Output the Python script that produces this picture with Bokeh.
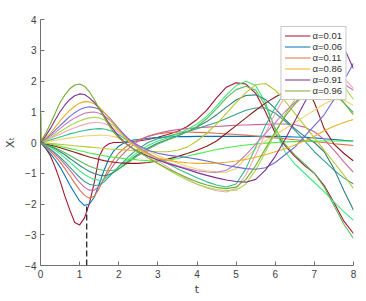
from bokeh.plotting import figure
from bokeh.models import Legend, LegendItem, Label, Range1d, FixedTicker
from bokeh.embed import file_html
from bokeh.resources import INLINE

t = [0, 0.125, 0.25, 0.375, 0.5, 0.625, 0.75, 0.875, 1, 1.125, 1.25, 1.375, 1.5, 1.625,
     1.75, 1.875, 2, 2.125, 2.25, 2.375,
     2.5, 2.75, 3, 3.25, 3.5, 3.75, 4, 4.25, 4.5, 4.75, 5, 5.25, 5.5, 5.75,
     6, 6.25, 6.5, 6.75, 7, 7.25, 7.5, 7.75, 8]
# the alpha = 0.96 curve has an extra start-up spike right after t = 0
t_096 = [0, 0.01, 0.02, 0.125, 0.25, 0.375, 0.5, 0.625, 0.75, 0.875, 1, 1.125, 1.25, 1.375, 1.5, 1.625,
         1.75, 1.875, 2, 2.125, 2.25, 2.375,
         2.5, 2.75, 3, 3.25, 3.5, 3.75, 4, 4.25, 4.5, 4.75, 5, 5.25, 5.5, 5.75,
         6, 6.25, 6.5, 6.75, 7, 7.25, 7.5, 7.75, 8]

x_001 = [0,-0.18,-0.42,-0.8,-1.25,-1.75,-2.2,-2.6,-2.68,-2.45,-1.98,-1.3,-0.45,-0.15,-0.04,0.0,0.0,0.01,0.02,0.03,
         0.05,0.1,0.17,0.26,0.36,0.52,0.75,1.05,1.45,1.8,1.94,1.9,1.6,1.0,0.3,-0.1,-0.45,-0.75,-1.0,-1.4,-1.95,-2.55,-2.96]
x_006 = [0,-0.17,-0.36,-0.56,-0.8,-1.08,-1.38,-1.65,-1.9,-2.05,-2.0,-1.78,-1.35,-0.9,-0.52,-0.27,-0.12,-0.02,0.04,0.08,
         0.1,0.14,0.16,0.18,0.19,0.19,0.2,0.2,0.2,0.2,0.2,0.2,0.2,0.2,0.2,0.19,0.18,0.17,0.15,0.12,0.1,0.07,0.05]
x_011 = [0,-0.13,-0.28,-0.45,-0.64,-0.85,-1.08,-1.32,-1.54,-1.72,-1.81,-1.75,-1.5,-1.15,-0.82,-0.55,-0.35,-0.2,-0.08,0.01,
         0.08,0.2,0.28,0.32,0.34,0.34,0.33,0.32,0.3,0.28,0.26,0.24,0.21,0.18,0.15,0.12,0.09,0.06,0.03,0.0,-0.04,-0.07,-0.1]
x_016 = [0,-0.11,-0.24,-0.38,-0.53,-0.71,-0.9,-1.1,-1.3,-1.46,-1.55,-1.55,-1.42,-1.2,-0.95,-0.72,-0.52,-0.35,-0.2,-0.07,
         0.05,0.2,0.3,0.37,0.42,0.45,0.48,0.5,0.52,0.54,0.56,0.57,0.58,0.59,0.6,0.6,0.58,0.5,0.35,0.1,-0.25,-0.62,-0.97]
x_021 = [0,-0.1,-0.21,-0.34,-0.48,-0.63,-0.8,-0.97,-1.13,-1.27,-1.36,-1.4,-1.38,-1.28,-1.12,-0.95,-0.78,-0.62,-0.46,-0.32,
         -0.2,0.0,0.12,0.2,0.28,0.35,0.45,0.55,0.65,0.78,0.92,1.05,1.12,1.12,0.95,0.7,0.4,0.05,-0.3,-0.6,-0.9,-1.15,-1.35]
x_026 = [0,-0.07,-0.15,-0.25,-0.37,-0.5,-0.64,-0.78,-0.92,-1.04,-1.13,-1.2,-1.23,-1.2,-1.08,-0.94,-0.8,-0.67,-0.55,-0.42,
         -0.3,-0.1,0.05,0.15,0.28,0.42,0.6,0.85,1.18,1.55,1.85,1.99,1.85,1.3,0.4,-0.3,-0.7,-1.0,-1.3,-1.6,-1.93,-2.25,-2.53]
x_031 = [0,-0.06,-0.12,-0.2,-0.3,-0.4,-0.52,-0.63,-0.75,-0.85,-0.94,-1.01,-1.06,-1.08,-1.05,-0.97,-0.86,-0.74,-0.61,-0.49,
         -0.38,-0.18,-0.02,0.1,0.22,0.35,0.5,0.68,0.9,1.15,1.38,1.53,1.55,1.4,1.1,0.75,0.45,0.2,0.0,-0.3,-0.85,-1.55,-2.2]
x_036 = [0,-0.05,-0.1,-0.17,-0.25,-0.33,-0.42,-0.51,-0.6,-0.69,-0.77,-0.83,-0.88,-0.91,-0.92,-0.9,-0.85,-0.76,-0.65,-0.53,
         -0.42,-0.22,-0.05,0.08,0.2,0.35,0.52,0.78,1.1,1.45,1.72,1.83,1.7,1.2,0.45,-0.05,-0.4,-0.7,-1.0,-1.45,-2.05,-2.65,-3.12]
x_041 = [0,-0.04,-0.08,-0.12,-0.17,-0.22,-0.27,-0.32,-0.37,-0.42,-0.47,-0.51,-0.55,-0.59,-0.62,-0.64,-0.66,-0.67,-0.68,-0.68,
         -0.68,-0.65,-0.6,-0.54,-0.46,-0.36,-0.25,-0.12,0.05,0.3,0.55,0.8,1.05,1.28,1.48,1.65,1.8,1.85,1.3,0.45,-0.05,-0.35,-0.6]
x_046 = [0,-0.02,-0.05,-0.08,-0.12,-0.16,-0.2,-0.23,-0.27,-0.3,-0.34,-0.37,-0.4,-0.43,-0.46,-0.48,-0.5,-0.52,-0.54,-0.55,
         -0.57,-0.59,-0.6,-0.58,-0.52,-0.45,-0.37,-0.3,-0.23,-0.17,-0.12,-0.08,-0.05,-0.02,0.0,0.02,0.03,0.04,0.05,0.05,0.05,0.05,0.05]
x_051 = [0,-0.015,-0.03,-0.045,-0.06,-0.075,-0.09,-0.105,-0.12,-0.135,-0.15,-0.165,-0.18,-0.195,-0.21,-0.22,-0.23,-0.24,-0.25,-0.26,
         -0.27,-0.29,-0.3,-0.3,-0.25,-0.15,0.05,0.3,0.6,0.95,1.3,1.62,1.88,1.92,1.7,1.35,0.95,0.55,0.15,-0.25,-0.65,-1.05,-1.5]
x_056 = [0,0.025,0.05,0.075,0.1,0.125,0.15,0.17,0.19,0.21,0.22,0.23,0.24,0.235,0.22,0.19,0.15,0.1,0.05,-0.02,
         -0.1,-0.28,-0.42,-0.55,-0.67,-0.78,-0.86,-0.92,-0.96,-0.97,-0.85,-0.5,-0.2,0.05,0.25,0.45,0.65,0.85,1.05,1.25,1.4,1.38,1.2]
x_061 = [0,0.04,0.08,0.13,0.18,0.23,0.28,0.32,0.36,0.39,0.42,0.44,0.45,0.44,0.4,0.34,0.25,0.15,0.05,-0.05,
         -0.15,-0.35,-0.52,-0.68,-0.85,-1.0,-1.15,-1.28,-1.38,-1.45,-1.35,-0.85,-0.15,0.55,1.15,1.65,2.0,2.15,2.1,1.9,1.6,1.3,0.97]
x_066 = [0,0.06,0.12,0.2,0.27,0.35,0.42,0.48,0.54,0.59,0.63,0.65,0.65,0.62,0.55,0.45,0.32,0.2,0.08,-0.04,
         -0.15,-0.38,-0.6,-0.8,-1.0,-1.18,-1.35,-1.48,-1.57,-1.61,-1.5,-1.05,-0.4,0.3,0.95,1.5,1.95,2.3,2.5,2.55,2.4,2.1,1.75]
x_071 = [0,0.07,0.15,0.25,0.35,0.45,0.55,0.63,0.7,0.76,0.8,0.82,0.8,0.74,0.65,0.53,0.38,0.23,0.08,-0.06,
         -0.2,-0.45,-0.68,-0.88,-1.06,-1.22,-1.36,-1.46,-1.53,-1.56,-1.55,-1.35,-0.9,-0.3,0.3,0.9,1.4,1.8,2.1,2.25,2.2,1.85,1.4]
x_076 = [0,0.1,0.2,0.32,0.45,0.58,0.7,0.8,0.88,0.95,0.98,0.99,0.95,0.87,0.75,0.6,0.42,0.25,0.1,-0.03,
         -0.15,-0.35,-0.52,-0.65,-0.76,-0.85,-0.92,-0.96,-0.97,-0.9,-0.7,-0.4,-0.05,0.3,0.65,1.0,1.3,1.58,1.8,1.95,2.0,1.9,1.7]
x_081 = [0,0.12,0.25,0.4,0.55,0.7,0.85,0.97,1.07,1.13,1.16,1.14,1.08,0.97,0.82,0.64,0.45,0.28,0.12,0.0,
         -0.1,-0.25,-0.35,-0.41,-0.45,-0.49,-0.54,-0.6,-0.67,-0.74,-0.8,-0.85,-0.87,-0.82,-0.65,-0.4,-0.15,0.2,0.55,0.9,1.4,2.0,2.58]
x_086 = [0,0.14,0.3,0.5,0.7,0.88,1.05,1.18,1.28,1.33,1.32,1.26,1.15,0.99,0.8,0.6,0.4,0.21,0.05,-0.08,
         -0.2,-0.38,-0.5,-0.58,-0.63,-0.66,-0.68,-0.68,-0.67,-0.64,-0.6,-0.55,-0.48,-0.4,-0.3,-0.2,-0.08,0.05,0.2,0.38,0.53,0.65,0.75]
x_091 = [0,0.2,0.45,0.73,1.0,1.22,1.4,1.52,1.58,1.56,1.45,1.3,1.1,0.87,0.62,0.4,0.2,0.04,-0.1,-0.21,
         -0.3,-0.45,-0.57,-0.68,-0.78,-0.88,-0.98,-1.07,-1.15,-1.22,-1.27,-1.29,-1.2,-0.9,-0.45,0.1,0.7,1.3,1.85,2.35,2.8,3.1,2.4]
x_096 = [0,0.97,0.06,0.28,0.6,0.95,1.3,1.55,1.75,1.87,1.9,1.83,1.65,1.4,1.1,0.82,0.55,0.33,0.15,0.01,-0.1,-0.2,
         -0.3,-0.5,-0.68,-0.85,-1.0,-1.15,-1.28,-1.38,-1.46,-1.5,-1.45,-1.2,-0.75,-0.2,0.35,0.85,1.25,1.55,1.75,1.8,1.65,1.3,0.9]

alphas = ["0.01", "0.06", "0.11", "0.16", "0.21", "0.26", "0.31", "0.36", "0.41", "0.46",
          "0.51", "0.56", "0.61", "0.66", "0.71", "0.76", "0.81", "0.86", "0.91", "0.96"]
series = [x_001, x_006, x_011, x_016, x_021, x_026, x_031, x_036, x_041, x_046,
          x_051, x_056, x_061, x_066, x_071, x_076, x_081, x_086, x_091, x_096]
times = [t] * 19 + [t_096]
colors = ["#A2142F", "#0072BD", "#E07346", "#C8689A", "#3A9E8C", "#3DEB7A", "#2F7F80",
          "#5DB85A", "#8B1A1A", "#44EE44", "#BCC82E", "#F2D36B", "#2DBE8E", "#F4A6B8",
          "#A8D84E", "#C47AC0", "#6A6AD8", "#EDB120", "#7E2F8E", "#77AC30"]
legend_idx = [0, 1, 2, 17, 18, 19]

x_ticks = [0, 1, 2, 3, 4, 5, 6, 7, 8]
y_ticks = [-4, -3, -2, -1, 0, 1, 2, 3, 4]
t1 = 1.18
t1_val = -2.08

p = figure(width=358, height=298, output_backend="svg", toolbar_location=None,
           x_range=Range1d(0, 8), y_range=Range1d(-4, 4),
           min_border_left=40, min_border_right=5, min_border_top=19, min_border_bottom=31)
p.outline_line_color = None
p.grid.visible = False
p.background_fill_color = "white"

renderers = []
for ts, ys, c in zip(times, series, colors):
    r = p.line(ts, ys, line_color=c, line_width=1.1)
    renderers.append(r)

p.segment(x0=[t1], y0=[-4], x1=[t1], y1=[t1_val], line_color="#303030",
          line_width=1.4, line_dash="6 3")

for ax in (p.xaxis[0], p.yaxis[0]):
    ax.axis_line_color = "#707070"
    ax.major_tick_line_color = "#707070"
    ax.major_tick_in = 4
    ax.major_tick_out = 0
    ax.minor_tick_line_color = None
    ax.major_label_text_font = "Liberation Sans"
    ax.major_label_text_font_size = "10px"
    ax.major_label_text_color = "#404040"
    ax.axis_label_text_font = "DejaVu Sans"
    ax.axis_label_text_font_style = "normal"
    ax.axis_label_text_font_size = "11px"
    ax.axis_label_text_color = "#404040"

p.xaxis.ticker = FixedTicker(ticks=x_ticks)
p.yaxis.ticker = FixedTicker(ticks=y_ticks)
p.xaxis.axis_label = "t"
p.yaxis.axis_label = "Xₜ"
p.xaxis.major_label_standoff = 4
p.xaxis.axis_label_standoff = 2
p.yaxis.major_label_standoff = 4
p.yaxis.axis_label_standoff = 5

p.add_layout(Label(x=t1 + 0.04, y=-4.38, text="t₁", text_font="DejaVu Sans",
                   text_font_size="9px", text_color="#404040", text_baseline="middle",
                   text_align="left"))

items = [LegendItem(label="α=" + alphas[i], renderers=[renderers[i]]) for i in legend_idx]
legend = Legend(items=items, location="top_right")
legend.label_text_font = "Liberation Sans"
legend.label_text_font_size = "9.5px"
legend.label_text_color = "#303030"
legend.label_height = 9
legend.glyph_height = 9
legend.glyph_width = 26
legend.label_standoff = 2
legend.spacing = 0
legend.padding = 3
legend.margin = 7
legend.border_line_color = "#909090"
legend.background_fill_alpha = 1.0
p.add_layout(legend)

open("out.html", "w").write(file_html(p, INLINE))
